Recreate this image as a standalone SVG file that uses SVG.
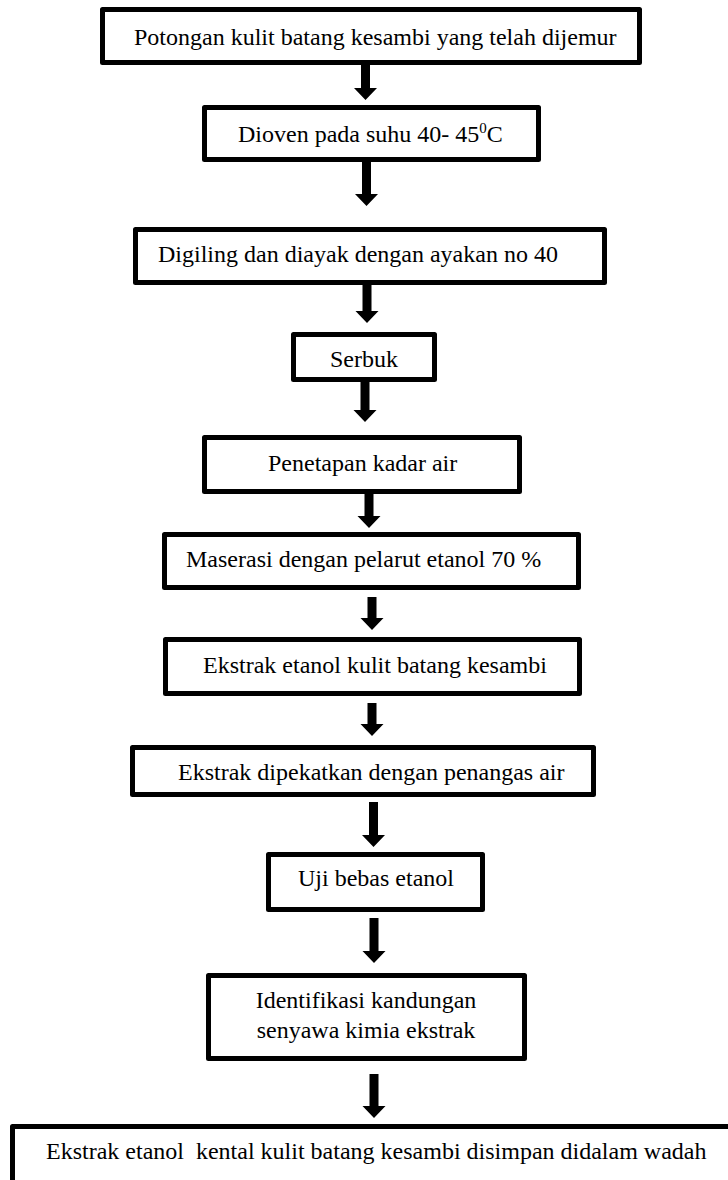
<svg xmlns="http://www.w3.org/2000/svg" width="728" height="1180" viewBox="0 0 728 1180">
<style>
.box{fill:#fff;stroke:#000;stroke-width:5;stroke-linejoin:round}
.t{font-family:"Liberation Serif","Times New Roman",serif;font-size:24px;fill:#000}
.arr{fill:#000}
</style>
<rect width="728" height="1180" fill="#fff"/>
<g id="n1"><rect class="box" x="102.5" y="9.5" width="537" height="53"/><text class="t" x="134" y="45">Potongan kulit batang kesambi yang telah dijemur</text></g>
<g id="n2"><rect class="box" x="204.5" y="107.5" width="334" height="52"/><text class="t" x="238" y="142">Dioven pada suhu 40- 45<tspan font-size="15" dy="-9">0</tspan><tspan dy="9">C</tspan></text></g>
<g id="n3"><rect class="box" x="135.5" y="229.5" width="469" height="53"/><text class="t" x="158" y="262">Digiling dan diayak dengan ayakan no 40</text></g>
<g id="n4"><rect class="box" x="293.5" y="334.5" width="141" height="45"/><text class="t" x="330" y="367">Serbuk</text></g>
<g id="n5"><rect class="box" x="204.5" y="437.5" width="315" height="54"/><text class="t" x="268" y="471">Penetapan kadar air</text></g>
<g id="n6"><rect class="box" x="164.5" y="534.5" width="414" height="53"/><text class="t" x="186" y="567">Maserasi dengan pelarut etanol 70 %</text></g>
<g id="n7"><rect class="box" x="165.5" y="639.5" width="414" height="54"/><text class="t" x="203" y="673">Ekstrak etanol kulit batang kesambi</text></g>
<g id="n8"><rect class="box" x="132.5" y="747.5" width="461" height="47"/><text class="t" x="178" y="780">Ekstrak dipekatkan dengan penangas air</text></g>
<g id="n9"><rect class="box" x="268.5" y="854.5" width="214" height="55"/><text class="t" x="298" y="886">Uji bebas etanol</text></g>
<g id="n10"><rect class="box" x="208.5" y="975.5" width="316" height="83"/><text class="t" x="366" y="1008" text-anchor="middle">Identifikasi kandungan</text><text class="t" x="366" y="1038" text-anchor="middle">senyawa kimia ekstrak</text></g>
<g id="n11"><rect class="box" x="12.5" y="1126.5" width="800" height="100"/><text class="t" x="46" y="1159" xml:space="preserve">Ekstrak etanol  kental kulit batang kesambi disimpan didalam wadah</text></g>
<g id="connectors">
<polygon class="arr" points="361,65 370,65 370,88 377,88 365.5,100 354,88 361,88"/>
<polygon class="arr" points="362,162 371,162 371,194 378,194 366.5,206 355,194 362,194"/>
<polygon class="arr" points="362.5,285 371.5,285 371.5,311 378.5,311 367,323 355.5,311 362.5,311"/>
<polygon class="arr" points="360.5,382 369.5,382 369.5,410 376.5,410 365,422 353.5,410 360.5,410"/>
<polygon class="arr" points="364.5,494 373.5,494 373.5,516 380.5,516 369,528 357.5,516 364.5,516"/>
<polygon class="arr" points="367.5,597 376.5,597 376.5,618 383.5,618 372,630 360.5,618 367.5,618"/>
<polygon class="arr" points="367.5,703 376.5,703 376.5,724 383.5,724 372,736 360.5,724 367.5,724"/>
<polygon class="arr" points="369,802 378,802 378,835 385,835 373.5,847 362,835 369,835"/>
<polygon class="arr" points="369.5,918 378.5,918 378.5,951 385.5,951 374,963 362.5,951 369.5,951"/>
<polygon class="arr" points="369.5,1074 378.5,1074 378.5,1106 385.5,1106 374,1118 362.5,1106 369.5,1106"/>
</g>
</svg>
